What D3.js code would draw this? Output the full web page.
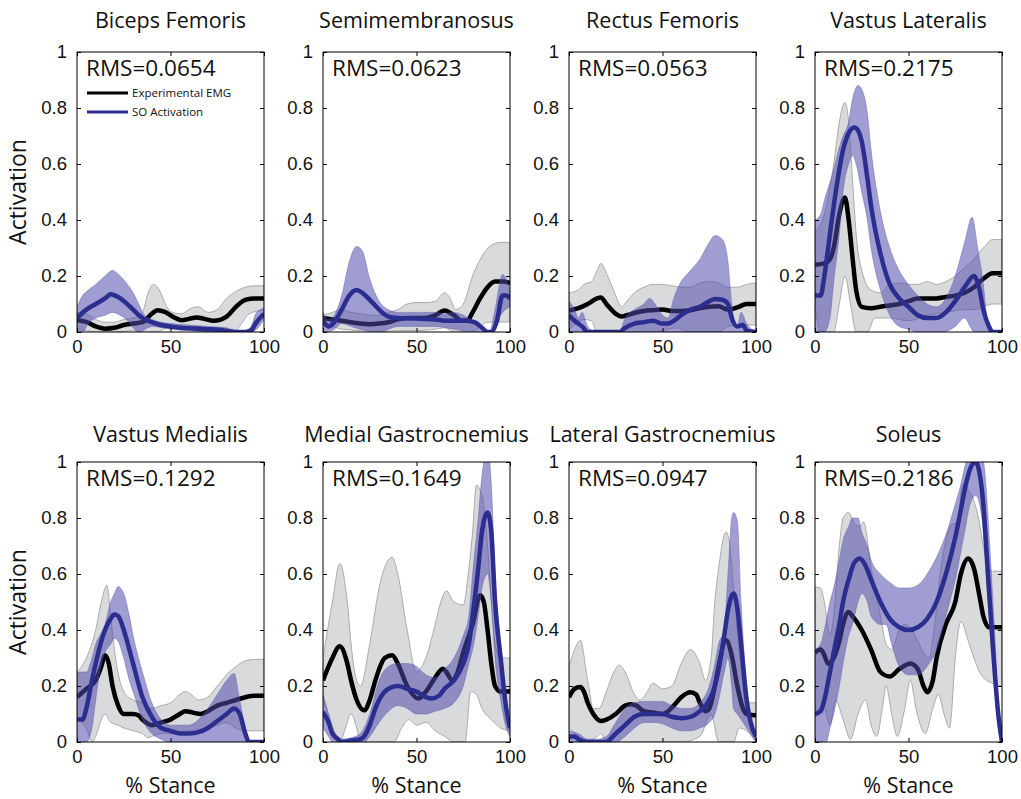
<!DOCTYPE html>
<html>
<head>
<meta charset="utf-8">
<script src="https://cdn.jsdelivr.net/npm/d3@7"></script>
<style>
  body { margin: 0; background: #fff; }
  svg { display: block; font-family: "Open Sans", sans-serif; }
  .tick text { font-size: 18.5px; fill: #111; }
</style>
</head>
<body>
<div id="chart"></div>
<script>
// panel names, rms values and axis ticks
var muscles = ['Biceps Femoris', 'Semimembranosus', 'Rectus Femoris', 'Vastus Lateralis',
               'Vastus Medialis', 'Medial Gastrocnemius', 'Lateral Gastrocnemius', 'Soleus'];
var rmsValues = ['0.0654', '0.0623', '0.0563', '0.2175', '0.1292', '0.1649', '0.0947', '0.2186'];
var xTicks = [0, 50, 100];
var yTicks = [0, 0.2, 0.4, 0.6, 0.8, 1];
var legendLabels = ['Experimental EMG', 'SO Activation'];

// [% stance, activation]
// Biceps Femoris
var bfEmg = [[0,.042],[5,.036],[10,.02],[15,.012],[20,.015],[25,.025],[30,.03],[35,.035],[40,.065],[43,.078],[47,.072],[52,.052],[56,.042],[60,.047],[64,.052],[68,.047],[73,.04],[80,.055],[85,.09],[90,.115],[95,.12],[100,.12]];
var bfEmgHi = [[0,.07],[5,.065],[10,.045],[15,.035],[20,.035],[25,.045],[30,.05],[35,.07],[38,.14],[41,.17],[44,.15],[48,.09],[52,.068],[56,.065],[61,.085],[65,.09],[70,.07],[75,.08],[80,.12],[85,.145],[90,.16],[95,.165],[100,.165]];
var bfEmgLo = [[0,.01],[5,.005],[10,0],[20,0],[30,.005],[35,0],[40,0],[45,.005],[50,.02],[55,.02],[60,.015],[65,.02],[70,.015],[75,.015],[80,.01],[84,0],[88,.03],[92,.065],[100,.078]];
var bfSo = [[0,.05],[5,.08],[10,.1],[15,.12],[18,.135],[22,.125],[26,.105],[30,.08],[35,.05],[40,.035],[45,.025],[50,.02],[55,.015],[60,.013],[70,.01],[75,.008],[80,.004],[85,0],[90,0],[93,.005],[96,.035],[100,.065]];
var bfSoHi = [[0,.09],[3,.13],[6,.15],[10,.17],[15,.2],[19,.22],[23,.2],[27,.17],[30,.14],[33,.1],[36,.06],[40,.045],[45,.035],[50,.03],[60,.025],[70,.02],[80,.015],[85,.005],[90,.005],[93,.02],[96,.07],[100,.085]];
var bfSoLo = [[0,0],[3,0],[6,.03],[10,.05],[15,.06],[19,.07],[23,.06],[27,.04],[30,.015],[33,0],[40,.02],[50,.01],[60,.005],[70,0],[93,0],[96,.01],[100,.045]];

// Semimembranosus
var smEmg = [[0,.05],[5,.045],[10,.04],[15,.035],[20,.03],[25,.028],[30,.03],[35,.035],[40,.045],[45,.05],[50,.05],[55,.05],[60,.06],[65,.077],[70,.06],[74,.04],[77,.04],[80,.07],[84,.12],[88,.16],[92,.18],[96,.18],[100,.175]];
var smEmgHi = [[0,.06],[5,.07],[10,.08],[15,.07],[20,.065],[25,.06],[30,.06],[35,.07],[40,.08],[45,.1],[50,.105],[55,.105],[60,.11],[65,.14],[68,.12],[71,.08],[75,.1],[80,.2],[85,.27],[90,.31],[95,.32],[100,.32]];
var smEmgLo = [[0,.03],[5,.02],[10,.01],[20,.005],[30,0],[40,.005],[50,.005],[60,.01],[65,.015],[70,0],[80,0],[84,.02],[88,.035],[100,.036]];
var smSo = [[0,.04],[3,.02],[6,.035],[10,.08],[14,.13],[18,.15],[21,.14],[25,.115],[30,.08],[35,.055],[40,.05],[50,.048],[60,.045],[65,.04],[70,.04],[76,.04],[81,.035],[85,.015],[88,0],[90,0],[93,.04],[96,.13],[98,.13],[100,.12]];
var smSoHi = [[0,.07],[3,.045],[6,.06],[10,.13],[14,.25],[18,.305],[21,.29],[25,.19],[30,.11],[35,.08],[40,.07],[50,.07],[60,.07],[65,.065],[70,.07],[75,.06],[80,.04],[85,.02],[89,0],[92,.08],[96,.205],[100,.15]];
var smSoLo = [[0,0],[5,.005],[10,.03],[15,.02],[20,.01],[30,0],[40,.02],[50,.02],[60,.02],[70,.01],[80,0],[91,0],[95,.06],[100,.09]];

// Rectus Femoris
var rfEmg = [[0,.077],[5,.085],[10,.1],[15,.12],[17,.123],[20,.1],[25,.065],[28,.055],[30,.058],[35,.068],[40,.075],[45,.078],[50,.08],[55,.075],[60,.075],[65,.078],[70,.085],[75,.09],[80,.092],[85,.08],[90,.088],[95,.1],[100,.1]];
var rfEmgHi = [[0,.14],[5,.15],[8,.17],[12,.18],[15,.22],[17,.245],[20,.21],[25,.13],[28,.09],[31,.11],[35,.14],[40,.16],[45,.17],[50,.17],[55,.165],[60,.16],[65,.16],[70,.175],[75,.18],[80,.175],[85,.16],[90,.16],[95,.17],[100,.175]];
var rfEmgLo = [[0,.01],[4,.03],[8,.045],[12,.04],[15,0],[28,0],[40,0],[50,.005],[57,.015],[65,0],[80,0],[85,.02],[90,.025],[100,.025]];
var rfSo = [[0,.06],[3,.04],[5,.03],[7,.02],[10,0],[27,0],[30,.015],[35,.03],[40,.035],[45,.04],[50,.03],[53,.03],[56,.04],[60,.06],[65,.08],[70,.09],[75,.11],[78,.118],[82,.115],[85,.1],[87,.05],[90,.02],[93,.025],[95,.005],[100,0]];
var rfSoHi = [[0,.11],[3,.08],[5,.05],[7,.07],[10,.02],[14,0],[27,0],[30,.05],[35,.08],[40,.1],[43,.12],[47,.09],[50,.06],[53,.05],[56,.12],[60,.18],[65,.22],[70,.26],[75,.32],[78,.345],[82,.33],[85,.25],[87,.1],[90,.02],[92,.07],[95,.03],[100,0]];
var rfSoLo = [[0,0],[100,0]];

// Vastus Lateralis
var vlEmg = [[0,.24],[5,.245],[8,.26],[10,.3],[13,.42],[16,.48],[18,.4],[20,.27],[22,.15],[25,.09],[30,.085],[35,.09],[40,.095],[45,.1],[50,.11],[55,.12],[60,.12],[65,.12],[70,.125],[75,.13],[80,.14],[85,.16],[90,.19],[95,.21],[100,.21]];
var vlEmgHi = [[0,.36],[5,.42],[10,.6],[13,.75],[16,.82],[18,.75],[20,.55],[22,.35],[25,.22],[30,.15],[35,.14],[40,.17],[45,.175],[50,.17],[55,.17],[60,.18],[65,.17],[70,.18],[75,.2],[80,.23],[85,.26],[90,.3],[95,.33],[100,.33]];
var vlEmgLo = [[0,.1],[3,0],[10,0],[13,.1],[16,.2],[19,.1],[22,0],[28,0],[32,.05],[40,.05],[50,.04],[60,.06],[70,.07],[80,.08],[85,.08],[90,.09],[95,.1],[100,.1]];
var vlSo = [[0,.13],[3,.13],[5,.2],[8,.35],[10,.45],[13,.58],[15,.65],[18,.71],[21,.73],[23,.72],[25,.68],[28,.55],[30,.45],[35,.28],[40,.17],[45,.12],[50,.09],[55,.06],[60,.05],[65,.05],[70,.07],[75,.11],[80,.16],[85,.2],[88,.15],[90,.08],[93,.02],[95,0],[100,0]];
var vlSoHi = [[0,.4],[3,.42],[5,.47],[10,.58],[13,.66],[15,.7],[18,.75],[20,.83],[23,.88],[26,.85],[28,.78],[30,.65],[35,.43],[40,.3],[45,.22],[50,.17],[55,.13],[60,.1],[65,.09],[70,.12],[75,.2],[80,.32],[84,.41],[87,.3],[90,.17],[92,.05],[95,0],[100,0]];
var vlSoLo = [[0,0],[5,0],[8,.05],[10,.18],[13,.35],[15,.5],[18,.6],[20,.63],[22,.6],[25,.5],[28,.4],[30,.3],[35,.15],[40,.06],[45,.02],[50,.01],[55,0],[68,0],[75,.02],[80,.05],[83,.02],[85,0],[100,0]];

// Vastus Medialis
var vmEmg = [[0,.16],[5,.19],[10,.22],[13,.27],[15,.31],[17,.28],[19,.2],[22,.13],[25,.1],[30,.1],[33,.095],[35,.08],[38,.065],[40,.06],[45,.07],[50,.08],[55,.1],[58,.11],[62,.105],[66,.1],[70,.11],[75,.13],[80,.14],[85,.15],[90,.16],[95,.165],[100,.165]];
var vmEmgHi = [[0,.25],[5,.3],[10,.4],[13,.5],[16,.56],[18,.45],[20,.33],[25,.18],[30,.15],[35,.14],[40,.12],[45,.13],[50,.14],[55,.17],[58,.18],[61,.17],[65,.15],[70,.16],[75,.2],[80,.24],[85,.27],[90,.29],[95,.295],[100,.295]];
var vmEmgLo = [[0,.08],[5,.05],[8,0],[10,.02],[13,.08],[15,.1],[18,.07],[22,.06],[25,.05],[30,.04],[35,.03],[38,.015],[40,.02],[45,.03],[50,.03],[60,.04],[70,.05],[75,.06],[80,.07],[85,.05],[90,.04],[100,.04]];
var vmSo = [[0,.08],[3,.08],[5,.12],[8,.22],[10,.28],[13,.36],[15,.4],[18,.44],[20,.455],[22,.45],[25,.4],[28,.33],[30,.28],[35,.16],[40,.09],[45,.05],[50,.04],[55,.03],[60,.03],[65,.035],[70,.05],[75,.075],[80,.1],[84,.12],[87,.1],[90,.03],[92,0],[100,0]];
var vmSoHi = [[0,.25],[5,.25],[8,.3],[10,.35],[13,.39],[15,.42],[18,.5],[20,.53],[22,.555],[25,.53],[28,.45],[30,.38],[35,.25],[40,.14],[45,.08],[50,.06],[60,.06],[65,.08],[70,.12],[75,.17],[80,.22],[84,.245],[87,.15],[90,.05],[92,0],[100,0]];
var vmSoLo = [[0,0],[5,0],[8,.05],[10,.15],[13,.28],[15,.32],[18,.35],[20,.37],[22,.36],[25,.3],[28,.22],[30,.18],[35,.08],[40,.03],[45,.01],[50,0],[100,0]];

// Medial Gastrocnemius
var mgEmg = [[0,.22],[3,.27],[5,.3],[9,.342],[13,.28],[15,.22],[18,.15],[22,.113],[25,.15],[28,.22],[30,.26],[33,.3],[37,.31],[40,.28],[45,.2],[51,.155],[55,.18],[60,.23],[64,.262],[66,.25],[69,.22],[72,.25],[75,.32],[80,.42],[84,.524],[86,.5],[88,.4],[90,.28],[92,.2],[95,.18],[100,.18]];
var mgEmgHi = [[0,.3],[5,.5],[9,.637],[13,.5],[15,.35],[18,.22],[20,.2],[25,.35],[30,.55],[34,.64],[37,.66],[40,.6],[45,.4],[50,.25],[55,.3],[60,.42],[63,.5],[66,.54],[70,.5],[75,.49],[78,.62],[80,.75],[82,.917],[85,.88],[88,.7],[90,.5],[92,.35],[95,.3],[100,.3]];
var mgEmgLo = [[0,.15],[5,.06],[9,0],[12,.05],[15,.1],[18,.05],[20,0],[38,0],[42,.05],[46,.08],[50,.06],[55,.07],[60,.04],[65,.02],[70,0],[76,0],[79,.18],[82,.17],[85,.12],[90,.08],[95,.05],[100,.04]];
var mgSo = [[0,.107],[3,.07],[5,.03],[8,.01],[10,0],[15,.005],[20,.01],[22,.02],[25,.06],[28,.12],[30,.15],[35,.19],[40,.2],[45,.19],[50,.18],[55,.16],[58,.155],[62,.165],[65,.19],[70,.22],[75,.28],[78,.35],[80,.45],[83,.62],[85,.75],[88,.82],[90,.75],[92,.5],[95,.3],[98,.12],[100,.05]];
var mgSoHi = [[0,.17],[3,.1],[5,.05],[8,.02],[10,.01],[15,.015],[20,.03],[25,.1],[30,.22],[35,.27],[40,.28],[45,.28],[50,.27],[55,.24],[60,.23],[65,.26],[70,.3],[75,.38],[78,.45],[80,.6],[83,.8],[85,.95],[88,1.05],[90,.92],[92,.6],[95,.35],[98,.15],[100,.06]];
var mgSoLo = [[0,.05],[3,.02],[5,0],[22,0],[25,.02],[30,.07],[35,.11],[40,.13],[45,.12],[50,.1],[55,.1],[60,.11],[65,.12],[70,.14],[75,.2],[78,.28],[80,.33],[83,.45],[85,.55],[88,.6],[90,.5],[92,.3],[95,.15],[98,.05],[100,.02]];

// Lateral Gastrocnemius
var lgEmg = [[0,.16],[3,.19],[6,.196],[8,.18],[10,.14],[13,.1],[17,.075],[20,.08],[25,.1],[30,.13],[33,.135],[36,.13],[40,.11],[45,.105],[50,.1],[53,.11],[56,.13],[60,.16],[65,.178],[68,.17],[70,.14],[73,.11],[75,.12],[78,.2],[80,.27],[84,.363],[87,.31],[90,.2],[93,.12],[95,.1],[100,.095]];
var lgEmgHi = [[0,.27],[3,.33],[6,.363],[10,.22],[13,.12],[16,.12],[20,.18],[24,.25],[27,.275],[30,.25],[35,.17],[38,.15],[41,.17],[45,.21],[50,.19],[55,.2],[60,.28],[65,.33],[70,.28],[73,.22],[76,.3],[78,.5],[80,.62],[84,.75],[86,.7],[88,.55],[90,.4],[93,.2],[95,.14],[100,.14]];
var lgEmgLo = [[0,.05],[3,.03],[6,.01],[10,0],[15,.02],[17,.03],[20,0],[30,0],[60,0],[70,.02],[76,.1],[80,0],[88,0],[91,.05],[95,.04],[100,0]];
var lgSo = [[0,.02],[3,.02],[5,.01],[10,0],[20,0],[22,.01],[25,.03],[30,.06],[35,.09],[40,.1],[45,.1],[50,.1],[55,.09],[60,.085],[65,.09],[70,.11],[75,.15],[78,.2],[80,.26],[83,.38],[85,.47],[88,.53],[90,.48],[92,.35],[95,.15],[98,.05],[100,.02]];
var lgSoHi = [[0,.04],[5,.03],[10,.01],[15,.01],[20,.02],[25,.07],[30,.12],[35,.14],[40,.145],[45,.145],[50,.145],[55,.13],[60,.12],[65,.12],[70,.14],[75,.2],[78,.28],[80,.35],[83,.4],[85,.6],[87,.8],[88,.82],[90,.79],[92,.5],[95,.2],[98,.06],[100,.02]];
var lgSoLo = [[0,0],[25,0],[30,.02],[35,.05],[40,.07],[45,.07],[50,.065],[55,.05],[60,.04],[65,.04],[70,.05],[75,.07],[78,.1],[80,.15],[83,.25],[85,.3],[87,.2],[88,.12],[90,.1],[92,.08],[95,.05],[100,0]];

// Soleus
var solEmg = [[0,.32],[3,.33],[5,.31],[7,.28],[10,.3],[13,.36],[15,.42],[18,.464],[20,.45],[25,.4],[30,.33],[35,.25],[40,.234],[45,.26],[51,.28],[55,.26],[58,.2],[60,.178],[63,.22],[65,.3],[70,.42],[75,.5],[78,.6],[82,.655],[85,.62],[88,.52],[90,.45],[93,.41],[95,.41],[100,.41]];
var solEmgHi = [[0,.553],[3,.55],[5,.5],[8,.38],[10,.45],[13,.7],[15,.8],[18,.82],[21,.78],[24,.77],[26,.786],[30,.62],[35,.45],[38,.35],[41,.33],[45,.4],[48,.42],[52,.4],[55,.36],[58,.32],[61,.3],[64,.42],[67,.6],[70,.72],[74,.78],[76,.78],[79,.92],[82,.9],[85,.86],[88,.78],[90,.7],[93,.62],[95,.61],[100,.61]];
var solEmgLo = [[0,.11],[3,.12],[5,.12],[8,.06],[11,.15],[15,.08],[19,.01],[23,.1],[27,.15],[30,.06],[33,.02],[36,.12],[38,.2],[41,.1],[44,.02],[48,.12],[51,.22],[54,.12],[59,.03],[63,.12],[66,.17],[69,.1],[72,.05],[75,.3],[78,.43],[82,.36],[85,.3],[88,.25],[92,.22],[100,.2]];
var solSo = [[0,.1],[3,.11],[5,.15],[8,.25],[10,.32],[13,.42],[15,.5],[18,.58],[21,.64],[24,.655],[27,.63],[30,.58],[35,.5],[40,.44],[45,.41],[50,.4],[55,.41],[60,.44],[65,.5],[70,.6],[75,.73],[78,.83],[81,.93],[84,.99],[86,1],[88,.96],[90,.85],[92,.65],[95,.35],[98,.1],[100,0]];
var solSoHi = [[0,.33],[3,.35],[5,.4],[8,.5],[10,.55],[13,.65],[15,.72],[18,.77],[20,.8],[23,.8],[25,.75],[28,.7],[30,.65],[35,.6],[40,.57],[45,.55],[50,.55],[55,.56],[60,.6],[65,.66],[70,.74],[75,.85],[78,.92],[80,.98],[83,1.05],[86,1.1],[89,1.05],[91,.95],[93,.75],[96,.4],[98,.15],[100,.02]];
var solSoLo = [[0,0],[6,0],[8,.05],[10,.1],[13,.2],[15,.28],[18,.38],[20,.42],[23,.5],[25,.53],[28,.5],[30,.45],[35,.42],[38,.42],[41,.35],[45,.27],[50,.24],[55,.24],[60,.27],[65,.33],[70,.45],[75,.58],[78,.68],[80,.75],[83,.85],[86,.88],[88,.85],[90,.75],[92,.55],[95,.3],[98,.05],[100,0]];

// per panel series, same order as muscles
var emgMean = [bfEmg, smEmg, rfEmg, vlEmg, vmEmg, mgEmg, lgEmg, solEmg];
var emgHi = [bfEmgHi, smEmgHi, rfEmgHi, vlEmgHi, vmEmgHi, mgEmgHi, lgEmgHi, solEmgHi];
var emgLo = [bfEmgLo, smEmgLo, rfEmgLo, vlEmgLo, vmEmgLo, mgEmgLo, lgEmgLo, solEmgLo];
var soMean = [bfSo, smSo, rfSo, vlSo, vmSo, mgSo, lgSo, solSo];
var soHi = [bfSoHi, smSoHi, rfSoHi, vlSoHi, vmSoHi, mgSoHi, lgSoHi, solSoHi];
var soLo = [bfSoLo, smSoLo, rfSoLo, vlSoLo, vmSoLo, mgSoLo, lgSoLo, solSoLo];

// layout
var WIDTH = 1021, HEIGHT = 799;
var PANEL_W = 187, PANEL_H = 280;
var COL_X = [77, 323, 569, 815];
var ROW_Y = [52, 462];
var TITLE_BASE = [28, 442];

var GRAY_FILL = '#d9dadc', GRAY_EDGE = '#a3a3a3';
var PURPLE_FILL = 'rgb(80,74,172)', PURPLE_EDGE = 'rgb(95,90,175)';
var BLUE = '#2b2e8f';

var svg = d3.select('#chart').append('svg')
    .attr('width', WIDTH)
    .attr('height', HEIGHT);

var x = d3.scaleLinear().domain([0, 100]).range([0, PANEL_W]);
var y = d3.scaleLinear().domain([0, 1]).range([PANEL_H, 0]);

var line = d3.line()
    .x(function(d) { return x(d[0]); })
    .y(function(d) { return y(d[1]); })
    .curve(d3.curveMonotoneX);

// band = upper edge forward, lower edge backward
var band_path = function(hi, lo) {
    return line(hi) + line(lo.slice().reverse()).replace('M', 'L') + 'Z';
};

muscles.forEach(function(name, i) {
    var col = i % 4, row = Math.floor(i / 4);
    var g = svg.append('g')
        .attr('transform', 'translate(' + COL_X[col] + ',' + ROW_Y[row] + ')');

    g.append('clipPath').attr('id', 'clip' + i)
      .append('rect')
        .attr('width', PANEL_W)
        .attr('height', PANEL_H);

    var plot = g.append('g').attr('clip-path', 'url(#clip' + i + ')');

    plot.append('path')
        .attr('d', band_path(emgHi[i], emgLo[i]))
        .attr('fill', GRAY_FILL)
        .attr('stroke', GRAY_EDGE)
        .attr('stroke-width', 0.9);
    plot.append('path')
        .attr('d', line(emgMean[i]))
        .attr('fill', 'none')
        .attr('stroke', '#000')
        .attr('stroke-width', 4.5)
        .attr('stroke-linejoin', 'round');
    plot.append('path')
        .attr('d', band_path(soHi[i], soLo[i]))
        .attr('fill', PURPLE_FILL)
        .attr('fill-opacity', 0.54)
        .attr('stroke', PURPLE_EDGE)
        .attr('stroke-opacity', 0.5)
        .attr('stroke-width', 0.9);
    plot.append('path')
        .attr('d', line(soMean[i]))
        .attr('fill', 'none')
        .attr('stroke', BLUE)
        .attr('stroke-width', 4.5)
        .attr('stroke-linejoin', 'round');

    // axes with inward ticks on all four sides
    var fmt = d3.format('');
    g.append('g')
        .attr('transform', 'translate(0,' + PANEL_H + ')')
        .call(d3.axisBottom(x).tickValues(xTicks).tickSizeInner(-4).tickSizeOuter(0).tickPadding(8))
        .call(function(a) { a.select('.domain').remove(); });
    g.append('g')
        .call(d3.axisTop(x).tickValues(xTicks).tickSizeInner(-4).tickSizeOuter(0).tickFormat(''))
        .call(function(a) { a.select('.domain').remove(); });
    g.append('g')
        .call(d3.axisLeft(y).tickValues(yTicks).tickSizeInner(-4).tickSizeOuter(0).tickPadding(10).tickFormat(fmt))
        .call(function(a) { a.select('.domain').remove(); });
    g.append('g')
        .attr('transform', 'translate(' + PANEL_W + ',0)')
        .call(d3.axisRight(y).tickValues(yTicks).tickSizeInner(-4).tickSizeOuter(0).tickFormat(''))
        .call(function(a) { a.select('.domain').remove(); });
    g.selectAll('.tick line').attr('stroke', '#000');

    g.append('rect')
        .attr('width', PANEL_W)
        .attr('height', PANEL_H)
        .attr('fill', 'none')
        .attr('stroke', '#000')
        .attr('stroke-width', 1);

    svg.append('text')
        .attr('x', COL_X[col] + PANEL_W / 2)
        .attr('y', TITLE_BASE[row])
        .attr('text-anchor', 'middle')
        .attr('font-size', 21.5)
        .attr('fill', '#111')
        .text(name);

    g.append('text')
        .attr('x', 9)
        .attr('y', 24)
        .attr('font-size', 22.5)
        .attr('fill', '#111')
        .text('RMS=' + rmsValues[i]);

    if (col === 0) {
        svg.append('text')
            .attr('transform', 'translate(26,' + (ROW_Y[row] + PANEL_H / 2) + ') rotate(-90)')
            .attr('text-anchor', 'middle')
            .attr('font-size', 23)
            .attr('fill', '#111')
            .text('Activation');
    }
    if (row === 1) {
        svg.append('text')
            .attr('x', COL_X[col] + PANEL_W / 2)
            .attr('y', 793)
            .attr('text-anchor', 'middle')
            .attr('font-size', 21.5)
            .attr('fill', '#111')
            .text('% Stance');
    }
});

// legend inside the first panel
var legend = svg.append('g').attr('transform', 'translate(' + (COL_X[0] + 10) + ',' + (ROW_Y[0] + 41) + ')');
var legendColors = ['#000', BLUE];
legendLabels.forEach(function(label, i) {
    legend.append('line')
        .attr('x1', 0).attr('x2', 41)
        .attr('y1', i * 19).attr('y2', i * 19)
        .attr('stroke', legendColors[i])
        .attr('stroke-width', 3);
    legend.append('text')
        .attr('x', 45)
        .attr('y', i * 19 + 4)
        .attr('font-size', 11.5)
        .attr('fill', '#111')
        .text(label);
});
</script>
</body>
</html>
